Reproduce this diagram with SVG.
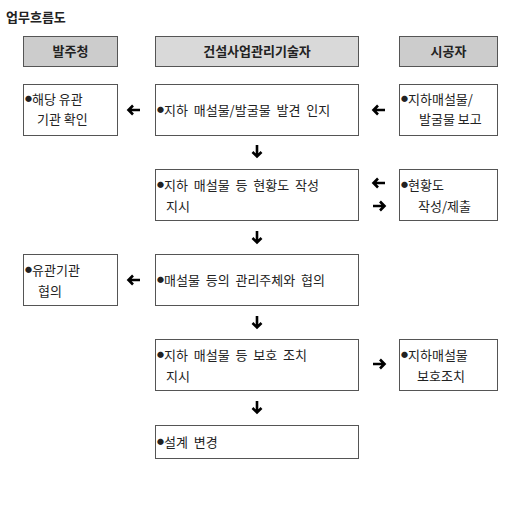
<svg xmlns="http://www.w3.org/2000/svg" width="515" height="517" viewBox="0 0 515 517">
<style>
text{font-family:"Noto Sans CJK KR","Noto Sans",sans-serif;font-size:13px;fill:#222}
.h{font-weight:bold;text-anchor:middle;font-size:13px}
.t{font-weight:bold;font-size:13px}
.b{font-size:7px;baseline-shift:3.5px}
.box,.g1,.g2{stroke:#555;stroke-width:1}
.box{fill:#fff}
.g1{fill:#cccccc}
.g2{fill:#d9d9d9}
.arr{stroke:#000;stroke-width:2.6;fill:none;stroke-linecap:butt;stroke-linejoin:miter}
</style>
<defs>
<path id="la" class="arr" d="M-5.5,0 H6 M-1,-4.5 L-5.5,0 L-1,4.5"/>
</defs>
<rect width="515" height="517" fill="#fff"/>
<text class="t" x="6" y="22">업무흐름도</text>
<g id="hdr1"><rect class="g1" x="23.5" y="36.5" width="94" height="30"/><text class="h" x="70.5" y="56">발주청</text></g>
<g id="hdr2"><rect class="g2" x="155.5" y="36.5" width="203" height="30"/><text class="h" x="257" y="56">건설사업관리기술자</text></g>
<g id="hdr3"><rect class="g1" x="399.5" y="36.5" width="98" height="30"/><text class="h" x="448.5" y="56">시공자</text></g>

<g id="n1"><rect class="box" x="23.5" y="84.5" width="94" height="51"/><text x="25" y="104"><tspan class="b">●</tspan>해당 유관</text><text x="37" y="124">기관 확인</text></g>
<g id="n2"><rect class="box" x="155.5" y="84.5" width="203" height="51"/><text x="157" y="115" xml:space="preserve"><tspan class="b">●</tspan>지하  매설물/발굴물  발견  인지</text></g>
<g id="n3"><rect class="box" x="399.5" y="84.5" width="98" height="51"/><text x="401" y="104"><tspan class="b">●</tspan>지하매설물/</text><text x="419" y="124">발굴물 보고</text></g>

<g id="n4"><rect class="box" x="155.5" y="169.5" width="203" height="51"/><text x="157" y="190" xml:space="preserve"><tspan class="b">●</tspan>지하  매설물  등  현황도  작성</text><text x="166" y="211">지시</text></g>
<g id="n5"><rect class="box" x="399.5" y="169.5" width="98" height="51"/><text x="401" y="190"><tspan class="b">●</tspan>현황도</text><text x="418" y="211">작성/제출</text></g>

<g id="n6"><rect class="box" x="23.5" y="254.5" width="94" height="51"/><text x="25" y="275"><tspan class="b">●</tspan>유관기관</text><text x="38" y="296">협의</text></g>
<g id="n7"><rect class="box" x="155.5" y="254.5" width="203" height="51"/><text x="157" y="285" xml:space="preserve"><tspan class="b">●</tspan>매설물  등의  관리주체와  협의</text></g>

<g id="n8"><rect class="box" x="155.5" y="339.5" width="203" height="51"/><text x="157" y="360" xml:space="preserve"><tspan class="b">●</tspan>지하  매설물  등  보호  조치</text><text x="166" y="381">지시</text></g>
<g id="n9"><rect class="box" x="399.5" y="339.5" width="98" height="51"/><text x="401" y="360"><tspan class="b">●</tspan>지하매설물</text><text x="417" y="381">보호조치</text></g>

<g id="n10"><rect class="box" x="155.5" y="425.5" width="203" height="33"/><text x="157" y="447" xml:space="preserve"><tspan class="b">●</tspan>설계  변경</text></g>

<g id="connectors">
<use href="#la" transform="translate(134,110)"/>
<use href="#la" transform="translate(379,110)"/>
<use href="#la" transform="translate(379,183)"/>
<use href="#la" transform="translate(379,206) rotate(180)"/>
<use href="#la" transform="translate(134,280)"/>
<use href="#la" transform="translate(379,364) rotate(180)"/>
<use href="#la" transform="translate(257,151) rotate(-90)"/>
<use href="#la" transform="translate(257,237) rotate(-90)"/>
<use href="#la" transform="translate(257,322) rotate(-90)"/>
<use href="#la" transform="translate(257,407) rotate(-90)"/>
</g>
</svg>
